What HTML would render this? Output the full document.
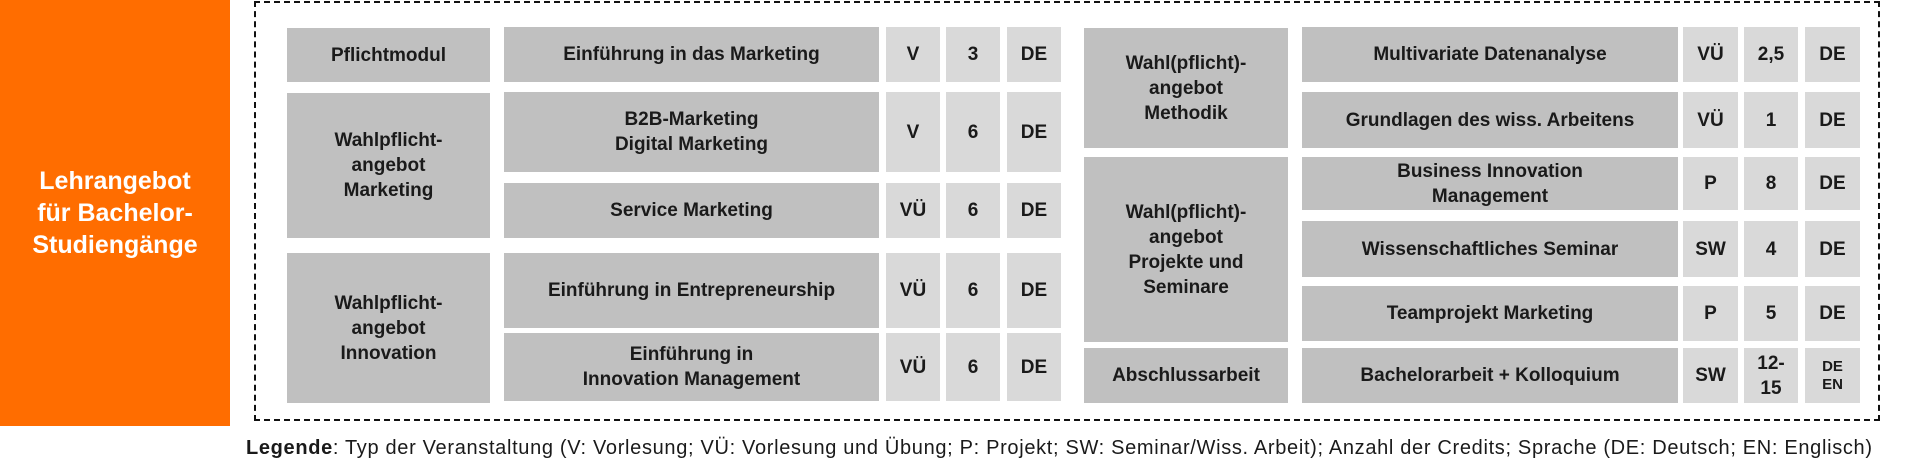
<!DOCTYPE html>
<html><head><meta charset="utf-8">
<style>
body{margin:0;width:1920px;height:472px;background:#fff;position:relative;overflow:hidden;font-family:"Liberation Sans",Arial,sans-serif;}
.c{position:absolute;display:flex;align-items:center;justify-content:center;text-align:center;font-weight:bold;font-size:19px;color:#1a1a1a;line-height:25px;}
.d{background:#c0c0c0;}
.l{background:#d9d9d9;}
#or{position:absolute;left:0;top:0;width:230px;height:426px;background:#ff6d00;color:#fff;font-weight:bold;font-size:25px;line-height:32px;display:flex;align-items:center;justify-content:center;text-align:center;}
#box{position:absolute;left:254px;top:1px;width:1626px;height:420px;border:2px dashed #111;box-sizing:border-box;}
svg{position:absolute;left:0;top:0;}
</style></head><body>
<div id="or">Lehrangebot<br>für Bachelor-<br>Studiengänge</div>
<div id="box"></div>

<!-- left group -->
<div class="c d" style="left:287px;top:28px;width:203px;height:54px">Pflichtmodul</div>
<div class="c d" style="left:504px;top:27px;width:375px;height:55px">Einführung in das Marketing</div>
<div class="c l" style="left:886px;top:27px;width:54px;height:55px">V</div>
<div class="c l" style="left:946px;top:27px;width:54px;height:55px">3</div>
<div class="c l" style="left:1007px;top:27px;width:54px;height:55px">DE</div>

<div class="c d" style="left:287px;top:93px;width:203px;height:145px">Wahlpflicht-<br>angebot<br>Marketing</div>
<div class="c d" style="left:504px;top:92px;width:375px;height:80px">B2B-Marketing<br>Digital Marketing</div>
<div class="c l" style="left:886px;top:92px;width:54px;height:80px">V</div>
<div class="c l" style="left:946px;top:92px;width:54px;height:80px">6</div>
<div class="c l" style="left:1007px;top:92px;width:54px;height:80px">DE</div>
<div class="c d" style="left:504px;top:183px;width:375px;height:55px">Service Marketing</div>
<div class="c l" style="left:886px;top:183px;width:54px;height:55px">VÜ</div>
<div class="c l" style="left:946px;top:183px;width:54px;height:55px">6</div>
<div class="c l" style="left:1007px;top:183px;width:54px;height:55px">DE</div>

<div class="c d" style="left:287px;top:253px;width:203px;height:150px">Wahlpflicht-<br>angebot<br>Innovation</div>
<div class="c d" style="left:504px;top:253px;width:375px;height:75px">Einführung in Entrepreneurship</div>
<div class="c l" style="left:886px;top:253px;width:54px;height:75px">VÜ</div>
<div class="c l" style="left:946px;top:253px;width:54px;height:75px">6</div>
<div class="c l" style="left:1007px;top:253px;width:54px;height:75px">DE</div>
<div class="c d" style="left:504px;top:333px;width:375px;height:68px">Einführung in<br>Innovation Management</div>
<div class="c l" style="left:886px;top:333px;width:54px;height:68px">VÜ</div>
<div class="c l" style="left:946px;top:333px;width:54px;height:68px">6</div>
<div class="c l" style="left:1007px;top:333px;width:54px;height:68px">DE</div>

<!-- right group -->
<div class="c d" style="left:1084px;top:28px;width:204px;height:120px">Wahl(pflicht)-<br>angebot<br>Methodik</div>
<div class="c d" style="left:1302px;top:27px;width:376px;height:55px">Multivariate Datenanalyse</div>
<div class="c l" style="left:1683px;top:27px;width:55px;height:55px">VÜ</div>
<div class="c l" style="left:1744px;top:27px;width:54px;height:55px">2,5</div>
<div class="c l" style="left:1805px;top:27px;width:55px;height:55px">DE</div>
<div class="c d" style="left:1302px;top:92px;width:376px;height:56px">Grundlagen des wiss. Arbeitens</div>
<div class="c l" style="left:1683px;top:92px;width:55px;height:56px">VÜ</div>
<div class="c l" style="left:1744px;top:92px;width:54px;height:56px">1</div>
<div class="c l" style="left:1805px;top:92px;width:55px;height:56px">DE</div>

<div class="c d" style="left:1084px;top:157px;width:204px;height:185px">Wahl(pflicht)-<br>angebot<br>Projekte und<br>Seminare</div>
<div class="c d" style="left:1302px;top:157px;width:376px;height:53px">Business Innovation<br>Management</div>
<div class="c l" style="left:1683px;top:157px;width:55px;height:53px">P</div>
<div class="c l" style="left:1744px;top:157px;width:54px;height:53px">8</div>
<div class="c l" style="left:1805px;top:157px;width:55px;height:53px">DE</div>
<div class="c d" style="left:1302px;top:221px;width:376px;height:56px">Wissenschaftliches Seminar</div>
<div class="c l" style="left:1683px;top:221px;width:55px;height:56px">SW</div>
<div class="c l" style="left:1744px;top:221px;width:54px;height:56px">4</div>
<div class="c l" style="left:1805px;top:221px;width:55px;height:56px">DE</div>
<div class="c d" style="left:1302px;top:286px;width:376px;height:55px">Teamprojekt Marketing</div>
<div class="c l" style="left:1683px;top:286px;width:55px;height:55px">P</div>
<div class="c l" style="left:1744px;top:286px;width:54px;height:55px">5</div>
<div class="c l" style="left:1805px;top:286px;width:55px;height:55px">DE</div>

<div class="c d" style="left:1084px;top:348px;width:204px;height:55px">Abschlussarbeit</div>
<div class="c d" style="left:1302px;top:348px;width:376px;height:55px">Bachelorarbeit + Kolloquium</div>
<div class="c l" style="left:1683px;top:348px;width:55px;height:55px">SW</div>
<div class="c l" style="left:1744px;top:348px;width:54px;height:55px">12-<br>15</div>
<div class="c l" style="left:1805px;top:348px;width:55px;height:55px;font-size:15px;line-height:18px">DE<br>EN</div>

<svg width="1920" height="472">
<text x="246" y="454" font-family="Liberation Sans, Arial, sans-serif" font-size="20" fill="#1a1a1a" textLength="1626" lengthAdjust="spacing"><tspan font-weight="bold">Legende</tspan>: Typ der Veranstaltung  (V: Vorlesung;  VÜ: Vorlesung  und  Übung;  P: Projekt;  SW: Seminar/Wiss. Arbeit); Anzahl der Credits; Sprache (DE: Deutsch;  EN: Englisch)</text>
</svg>
</body></html>
